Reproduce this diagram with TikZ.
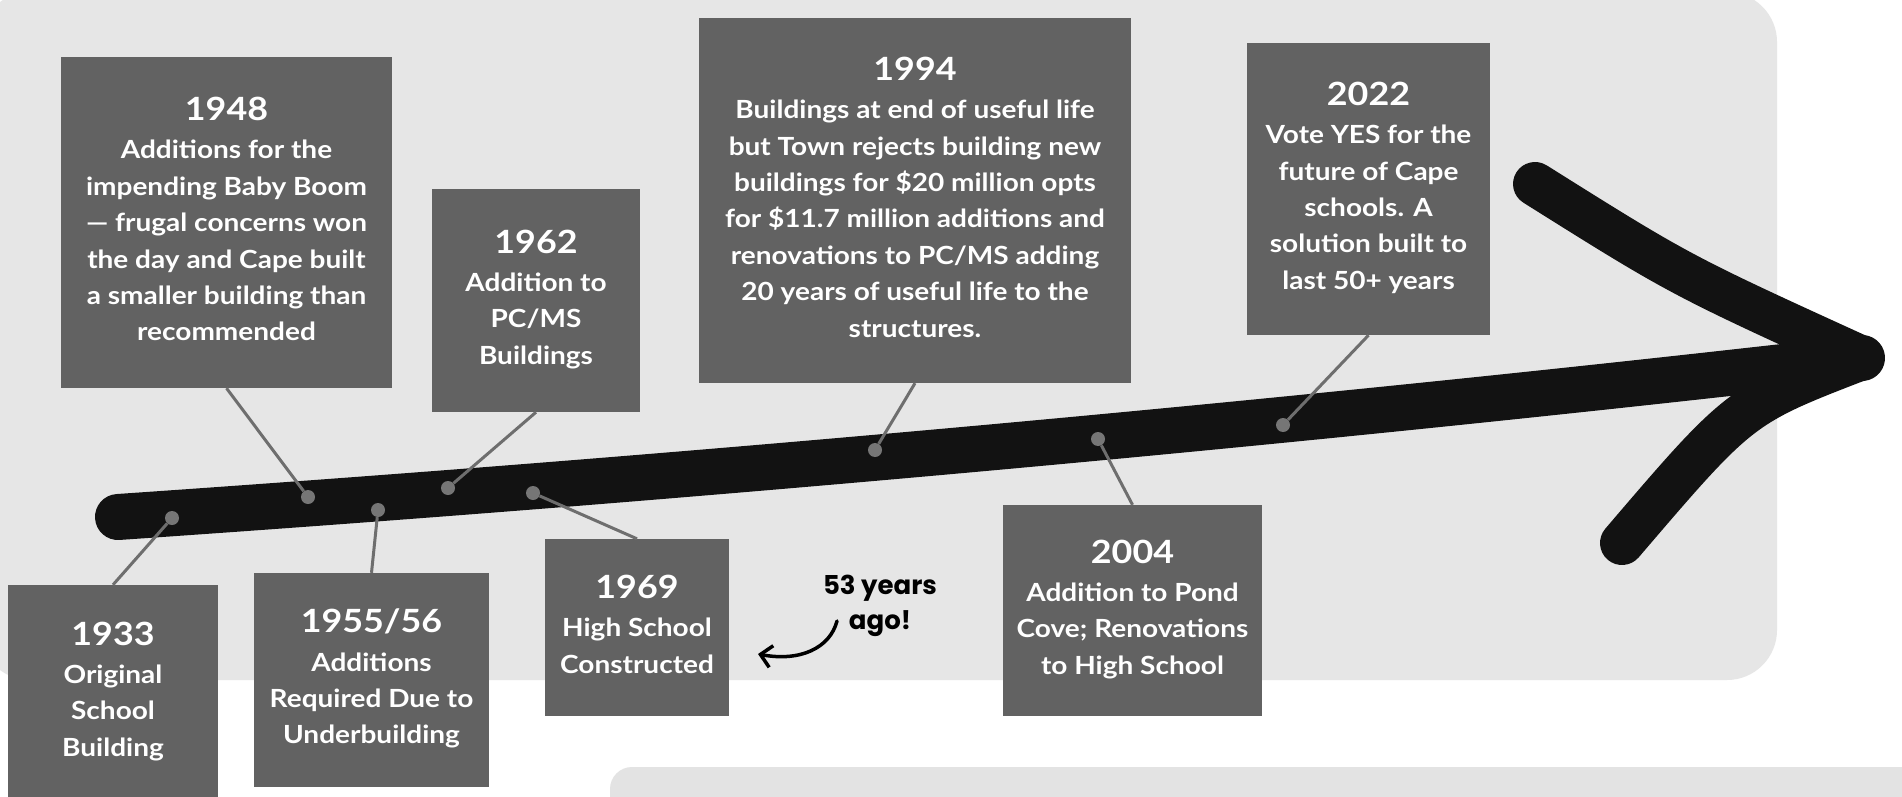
\documentclass[tikz,border=0pt]{standalone}
\usepackage{fontspec}
\setmainfont{Lato}[FakeStretch=1.12]
\newfontfamily\notefont{Poppins}
\usetikzlibrary{arrows.meta}
\definecolor{bggray}{HTML}{E6E6E6}
\definecolor{bggraylow}{HTML}{E3E3E3}
\definecolor{boxgray}{HTML}{626262}
\definecolor{linegray}{HTML}{6E6E6E}
\definecolor{dotgray}{HTML}{767676}
\definecolor{barblack}{HTML}{121212}
\newcommand{\boxtext}[2]{\raisebox{-1pt}[\height][\depth]{\begin{tabular}{@{}c@{}}{\fontsize{32}{36}\selectfont #1}\\[2pt]#2\end{tabular}}}
\begin{document}
\begin{tikzpicture}[x=1pt,y=-1pt,
  box/.style={rectangle, fill=boxgray, text=white, inner sep=0pt,
    font=\bfseries\fontsize{25}{36.4}\selectfont},
  tdot/.style={circle, fill=dotgray, inner sep=0pt, minimum size=14pt},
  conn/.style={draw=linegray, line width=3pt},
  bar/.style={draw=barblack, line width=46pt, line cap=round},
  barb/.style={draw=barblack, line width=44pt, line cap=round},
  note/.style={align=center, font=\notefont\bfseries\fontsize{26}{35}\selectfont, text=black},
  notearrow/.style={draw=black, line width=3.5pt, line cap=round,
    -{Straight Barb[length=11pt,width=22pt,line width=3.5pt]}}
]
\useasboundingbox (0,0) rectangle (1902,797);
% background panels
\fill[white] (0,0) rectangle (1902,797);
\fill[bggray, rounded corners=50pt] (-20,-8) rectangle (1777,680);
\fill[bggraylow, rounded corners=22pt] (610,767) rectangle (1960,860);
% timeline arrow
\draw[bar] (118,517) .. controls (702,477) and (1286,424) .. (1862,358);
\draw[barb] (1535,184) .. controls (1680,275) .. (1862,358);
\draw[barb] (1862,358) .. controls (1740,405) .. (1622,543);
% boxes
\node[box, minimum width=210pt, minimum height=215pt] (b1933) at (113,692.5)
  {\boxtext{1933}{Original\\School\\Building}};
\node[box, minimum width=331pt, minimum height=331pt] (b1948) at (226.5,222.5)
  {\boxtext{1948}{Additions for the\\impending Baby Boom\\— frugal concerns won\\the day and Cape built\\a smaller building than\\recommended}};
\node[box, minimum width=235pt, minimum height=214pt] (b1955) at (371.5,680)
  {\boxtext{1955/56}{Additions\\Required Due to\\Underbuilding}};
\node[box, minimum width=208pt, minimum height=223pt] (b1962) at (536,300.5)
  {\boxtext{1962}{Addition to\\PC/MS\\Buildings}};
\node[box, minimum width=184pt, minimum height=177pt] (b1969) at (637,627.5)
  {\boxtext{1969}{High School\\Constructed}};
\node[box, minimum width=432pt, minimum height=365pt] (b1994) at (915,200.5)
  {\boxtext{1994}{Buildings at end of useful life\\but Town rejects building new\\buildings for \$20 million opts\\for \$11.7 million additions and\\renovations to PC/MS adding\\20 years of useful life to the\\structures.}};
\node[box, minimum width=259pt, minimum height=211pt] (b2004) at (1132.5,610.5)
  {\boxtext{2004}{Addition to Pond\\Cove; Renovations\\to High School}};
\node[box, minimum width=243pt, minimum height=292pt] (b2022) at (1368.5,189)
  {\boxtext{2022}{Vote YES for the\\future of Cape\\schools. A\\solution built to\\last 50+ years}};
% dots on the timeline
\node[tdot] (d1933) at (172,518) {};
\node[tdot] (d1948) at (308,497) {};
\node[tdot] (d1955) at (378,510) {};
\node[tdot] (d1962) at (448,488) {};
\node[tdot] (d1969) at (533,493) {};
\node[tdot] (d1994) at (875,450) {};
\node[tdot] (d2004) at (1098,439) {};
\node[tdot] (d2022) at (1283,425) {};
% connectors
\draw[conn] (d1933) -- (b1933.north);
\draw[conn] (d1948) -- (b1948.south);
\draw[conn] (d1955) -- (b1955.north);
\draw[conn] (d1962) -- (b1962.south);
\draw[conn] (d1969) -- (b1969.north);
\draw[conn] (d1994) -- (b1994.south);
\draw[conn] (d2004) -- (b2004.north);
\draw[conn] (d2022) -- (b2022.south);
% note
\node[note] (n53) at (880,606) {53 years\\ago!};
\coordinate (arrS) at (837,621);
\coordinate (arrE) at (758,654);
\draw[notearrow] (arrS) .. controls (830,648) and (800,662) .. (arrE);
\end{tikzpicture}
\end{document}
